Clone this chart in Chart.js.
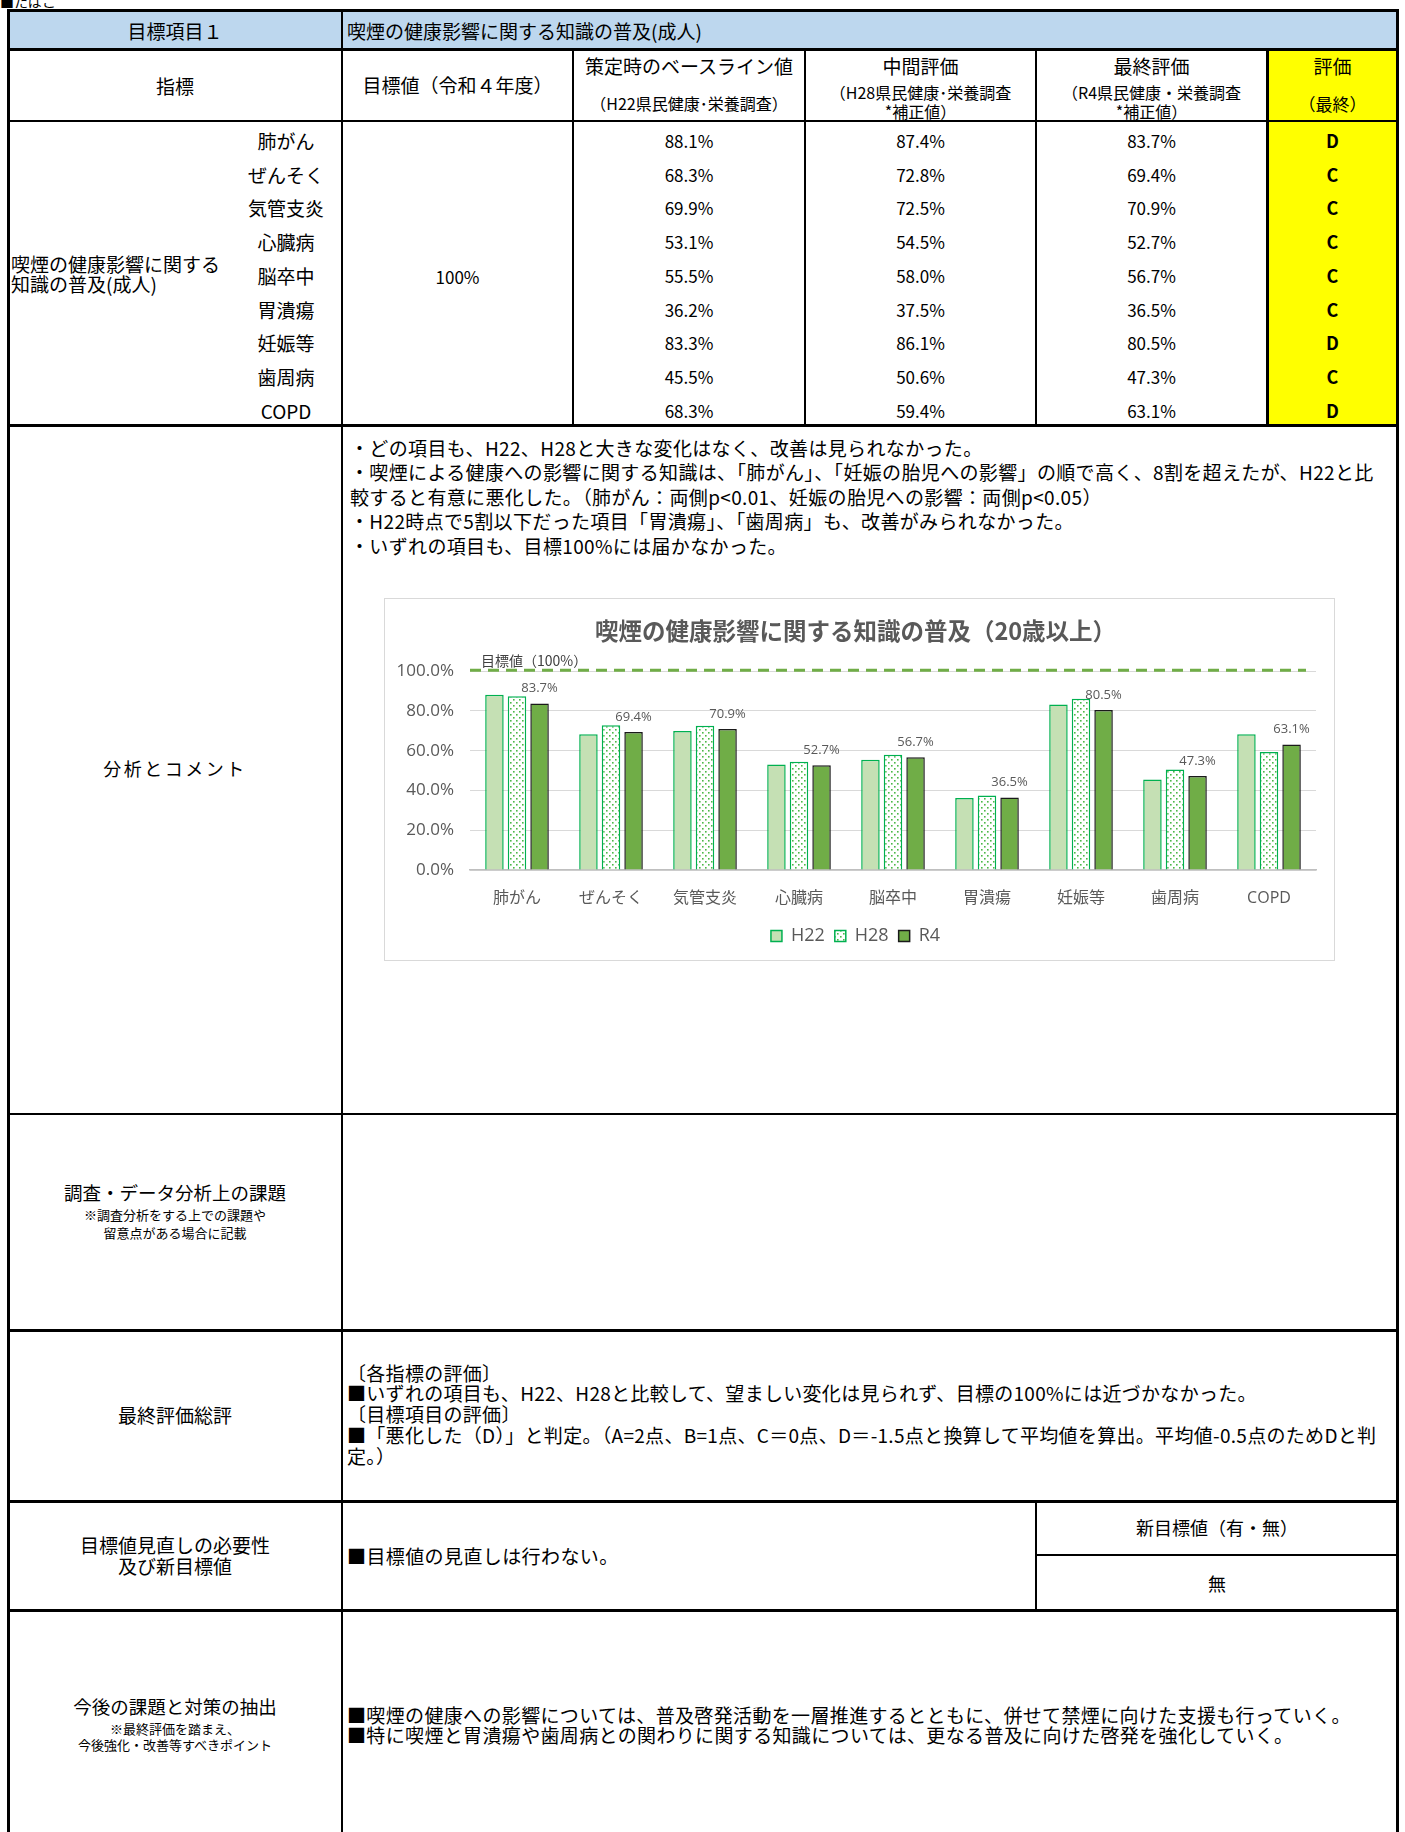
<!DOCTYPE html>
<html lang="ja">
<head>
<meta charset="utf-8">
<script src="https://cdn.jsdelivr.net/npm/chart.js@4.4.0/dist/chart.umd.min.js"></script>
<style>
html,body{margin:0;padding:0;background:#fff;}
body{width:1405px;height:1832px;position:relative;overflow:hidden;font-family:"Noto Sans CJK JP",sans-serif;color:#000;}
#page{position:absolute;left:0;top:0;width:1405px;height:1832px;}
</style>
</head>
<body>
<div id="page"></div>
<div id="chartBox" style="position:absolute;left:384px;top:598px;width:951px;height:363px;border:1px solid #D9D9D9;box-sizing:border-box;background:#fff;">
<canvas id="chart" width="939" height="361" style="position:absolute;left:10px;top:0;"></canvas>
</div>
<script>
// ---------- data ----------
const categories = ['肺がん','ぜんそく','気管支炎','心臓病','脳卒中','胃潰瘍','妊娠等','歯周病','COPD'];
const h22Values = [88.1, 68.3, 69.9, 53.1, 55.5, 36.2, 83.3, 45.5, 68.3];
const h28Values = [87.4, 72.8, 72.5, 54.5, 58.0, 37.5, 86.1, 50.6, 59.4];
const r4Values  = [83.7, 69.4, 70.9, 52.7, 56.7, 36.5, 80.5, 47.3, 63.1];
const grades    = ['D','C','C','C','C','C','D','C','D'];
const seriesLabels = ['H22','H28','R4'];
const targetValue = 100;
const targetLabel = '目標値（100%）';
const yMin = 0, yMax = 100, yStep = 20;
const chartTitle = '喫煙の健康影響に関する知識の普及（20歳以上）';

// ---------- page (table) ----------
const page = document.getElementById('page');
function box(l,t,w,h,bg){
  const d=document.createElement('div');
  d.style.cssText=`position:absolute;left:${l}px;top:${t}px;width:${w}px;height:${h}px;background:${bg}`;
  page.appendChild(d);
}
function txt(s,l,w,cy,size,opt={}){
  const d=document.createElement('div');
  d.textContent=s;
  d.style.cssText=`position:absolute;left:${l}px;top:${cy}px;width:${w}px;transform:translateY(-50%);font-size:${size}px;line-height:1;white-space:nowrap;text-align:${opt.align||'center'};font-weight:${opt.bold?'bold':'normal'};letter-spacing:${opt.ls||0}px;color:${opt.color||'#000'}`;
  page.appendChild(d);
}
// multi-line block: one text node, lines separated by \n
function block(lines,l,w,firstCy,size,lh,opt={}){
  const d=document.createElement('div');
  d.textContent=lines.join('\n');
  d.style.cssText=`position:absolute;left:${l}px;top:${firstCy-lh/2}px;width:${w}px;font-size:${size}px;line-height:${lh}px;white-space:pre;text-align:${opt.align||'center'};letter-spacing:${opt.ls||0}px;color:#000`;
  page.appendChild(d);
}
function hl(x1,x2,y,w){ box(x1, y-w/2, x2-x1, w, '#000'); }
function vl(x,y1,y2,w){ box(x-w/2, y1, w, y2-y1, '#000'); }

const L=8, C1=342, C2=573, C3=805, C4=1036, C5=1267, R=1398;
const T=10, R1=49, R2=121, A=425, B=1114, Cc=1330, D=1501, E=1610;

// fills
box(L, T, R-L, R1-T, '#BDD7EE');
box(C5, R1, R-C5, A-R1, '#FFFF00');

// top label (cut in the reference as well)
txt('■たばこ', 0, 200, 1, 14, {align:'left'});

// header row 1
txt('目標項目１', L, C1-L, 30, 19);
txt('喫煙の健康影響に関する知識の普及(成人)', C1+5, 800, 30, 19, {align:'left'});

// header row 2
txt('指標', L, C1-L, 85, 19);
txt('目標値（令和４年度）', C1, C2-C1, 84, 19);
txt('策定時のベースライン値', C2, C3-C2, 65, 19);
txt('（H22県民健康･栄養調査）', C2, C3-C2, 103, 16);
txt('中間評価', C3, C4-C3, 65, 19);
block(['（H28県民健康･栄養調査','*補正値）'], C3, C4-C3, 92, 16, 19);
txt('最終評価', C4, C5-C4, 65, 19);
block(['（R4県民健康・栄養調査','*補正値）'], C4, C5-C4, 92, 16, 19);
txt('評価', C5, R-C5, 65, 19);
txt('（最終）', C5, R-C5, 103, 17);

// data rows
categories.forEach((c,i)=>{
  const cy = 140 + i*33.7;
  txt(c, 230, C1-230, cy, 19);
  txt(h22Values[i].toFixed(1)+'%', C2, C3-C2, cy, 17);
  txt(h28Values[i].toFixed(1)+'%', C3, C4-C3, cy, 17);
  txt(r4Values[i].toFixed(1)+'%', C4, C5-C4, cy, 17);
  txt(grades[i], C5, R-C5, cy, 18, {bold:true});
});
block(['喫煙の健康影響に関する','知識の普及(成人)'], 11, 300, 264, 19, 20, {align:'left'});
txt('100%', C1, C2-C1, 276, 17);

// analysis
txt('分析とコメント', L, C1-L, 768, 18, {ls:2.5});
block([
  '・どの項目も、H22、H28と大きな変化はなく、改善は見られなかった。',
  '・喫煙による健康への影響に関する知識は、「肺がん」、「妊娠の胎児への影響」の順で高く、8割を超えたが、H22と比',
  '較すると有意に悪化した。（肺がん：両側p<0.01、妊娠の胎児への影響：両側p<0.05）',
  '・H22時点で5割以下だった項目「胃潰瘍」、「歯周病」も、改善がみられなかった。',
  '・いずれの項目も、目標100%には届かなかった。'
], 350, 1040, 448, 19, 24.6, {align:'left', ls:0.35});

// survey issues
txt('調査・データ分析上の課題', L, C1-L, 1192, 18.5);
block(['※調査分析をする上での課題や','留意点がある場合に記載'], L, C1-L, 1215, 13, 18);

// final evaluation
txt('最終評価総評', L, C1-L, 1414, 19);
block([
  '〔各指標の評価〕',
  '■いずれの項目も、H22、H28と比較して、望ましい変化は見られず、目標の100%には近づかなかった。',
  '〔目標項目の評価〕',
  '■「悪化した（D）」と判定。（A=2点、B=1点、C＝0点、D＝-1.5点と換算して平均値を算出。平均値-0.5点のためDと判',
  '定。）'
], 347, 1045, 1373, 19, 20.8, {align:'left', ls:0.3});

// target revision
block(['目標値見直しの必要性','及び新目標値'], L, C1-L, 1544, 19, 21);
txt('■目標値の見直しは行わない。', 347, 600, 1555, 19, {align:'left', ls:0.4});
txt('新目標値（有・無）', C4, R-C4, 1527, 18);
txt('無', C4, R-C4, 1583, 18);

// future
txt('今後の課題と対策の抽出', L, C1-L, 1706, 18.5);
block(['※最終評価を踏まえ、','今後強化・改善等すべきポイント'], L, C1-L, 1729, 13, 16);
block([
  '■喫煙の健康への影響については、普及啓発活動を一層推進するとともに、併せて禁煙に向けた支援も行っていく。',
  '■特に喫煙と胃潰瘍や歯周病との関わりに関する知識については、更なる普及に向けた啓発を強化していく。'
], 347, 1045, 1715, 19, 20, {align:'left', ls:0.35});

// lines
hl(L-1, R+1, T, 3);
vl(L, T, 1832, 3);
vl(R-1, T, 1832, 3);
hl(L, R, R1, 3);
hl(L, R, R2, 2);
hl(L, R, A, 3);
hl(L, R, B, 2);
hl(L, R, Cc, 3);
hl(L, R, D, 3);
hl(L, R, E, 3);
hl(C4, R, 1555, 2);
vl(C1, T, 1832, 2);
vl(C2, R1, A, 2);
vl(C3, R1, A, 2);
vl(C4, R1, A, 2);
vl(C5, R1, A, 3);
vl(C4, D, E, 2);

// ---------- chart ----------
const F = "'Open Sans','Noto Sans CJK JP',sans-serif";
const JF = "'Noto Sans CJK JP',sans-serif";
Chart.defaults.font.family = F;
const canvas = document.getElementById('chart');
const ctx = canvas.getContext('2d');

function dotPattern(){
  const c=document.createElement('canvas'); c.width=6; c.height=6;
  const g=c.getContext('2d');
  g.fillStyle='#ffffff'; g.fillRect(0,0,6,6);
  g.fillStyle='#4CB848';
  g.fillRect(1,1,1.6,1.6); g.fillRect(4,4,1.6,1.6);
  return ctx.createPattern(c,'repeat');
}

// target line (through the y scale) + R4 value labels + target label
const overlayPlugin = {
  id:'overlayPlugin',
  afterDatasetsDraw(chart){
    const c = chart.ctx;
    const ys = chart.scales.y;
    const area = chart.chartArea;
    const yT = ys.getPixelForValue(targetValue);
    c.save();
    c.strokeStyle = '#70AD47';
    c.lineWidth = 3;
    c.setLineDash([11,7]);
    c.beginPath();
    c.moveTo(area.left, yT - 1);
    c.lineTo(area.right - 10, yT - 1);
    c.stroke();
    c.setLineDash([]);

    const meta = chart.getDatasetMeta(2);
    c.font = '13px ' + F;
    c.fillStyle = '#595959';
    c.textAlign = 'center';
    c.textBaseline = 'middle';
    meta.data.forEach((bar,i)=>{
      c.fillText(r4Values[i].toFixed(1)+'%', bar.x, bar.y - 15);
    });
    c.font = '14px ' + JF;
    c.fillStyle = '#404040';
    c.textAlign = 'left';
    c.fillText(targetLabel, area.left + 11, yT - 11);
    c.restore();
  }
};

new Chart(canvas, {
  type:'bar',
  data:{
    labels: categories,
    datasets:[
      {label:seriesLabels[0], data:h22Values, backgroundColor:'#C5E0B4', borderColor:'#00B050', borderWidth:1.5},
      {label:seriesLabels[1], data:h28Values, backgroundColor:dotPattern(), borderColor:'#00B050', borderWidth:1.5},
      {label:seriesLabels[2], data:r4Values, backgroundColor:'#70AD47', borderColor:'#1A1A1A', borderWidth:1.5}
    ]
  },
  options:{
    responsive:false,
    animation:false,
    layout:{padding:{left:0,right:18,top:0,bottom:5}},
    datasets:{bar:{categoryPercentage:0.72, barPercentage:0.82}},
    scales:{
      x:{
        offset:true,
        grid:{display:false},
        border:{display:true,color:'#BFBFBF',width:1.5},
        ticks:{color:'#595959', font:{size:16}, padding:11},
        afterFit(s){ s.height = 47; }
      },
      y:{
        min:yMin, max:yMax,
        ticks:{stepSize:yStep, color:'#595959', font:{size:17}, padding:16,
               callback:v=>v.toFixed(1)+'%'},
        grid:{color:'#D9D9D9', lineWidth:1, drawTicks:false},
        border:{display:false},
        afterFit(s){ s.width = 75; }
      }
    },
    plugins:{
      title:{display:true, text:chartTitle, color:'#595959',
             font:{size:23.5, weight:'bold', family:JF}, padding:{top:18,bottom:26}},
      legend:{position:'bottom',
              labels:{boxWidth:11, boxHeight:11, color:'#595959', font:{size:18}, padding:10}},
      tooltip:{enabled:false}
    }
  },
  plugins:[overlayPlugin]
});
</script>
</body>
</html>
